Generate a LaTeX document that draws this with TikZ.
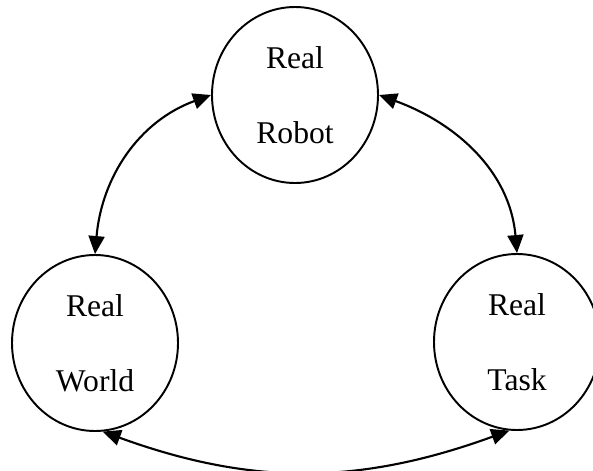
\documentclass[tikz,border=0pt]{standalone}
\usepackage{fontspec}
\setmainfont{Liberation Serif}
\usepackage{tikz}
\usetikzlibrary{shapes.geometric,arrows.meta}

\begin{document}
\begin{tikzpicture}[
    realbox/.style={draw, ellipse, line width=1.1pt, minimum width=3.32cm, minimum height=3.52cm,
        inner sep=0pt, align=center, font=\fontsize{18}{42.7}\selectfont},
    link/.style={line width=1.2pt, {Triangle[length=0.36cm,width=0.32cm]}-{Triangle[length=0.36cm,width=0.32cm]}}]
    % Fix the page size
    \useasboundingbox (0,0) rectangle (11.86,9.4);
    % Draw the three circles
    \node[realbox] (robot) at (5.9,7.5) {Real\\Robot};
    \node[realbox] (world) at (1.9,2.54) {Real\\World};
    \node[realbox] (task) at (10.34,2.56) {Real\\Task};
    % Draw the links between them
    \draw[link] (world.north) to[out=85, in=200] (robot.west); % Left link
    \draw[link] (robot.east) to[out=-20, in=95] (task.north); % Right link
    \draw[link] (world.-85) to[out=-20, in=200] (task.-95); % Bottom link
\end{tikzpicture}
\end{document}
